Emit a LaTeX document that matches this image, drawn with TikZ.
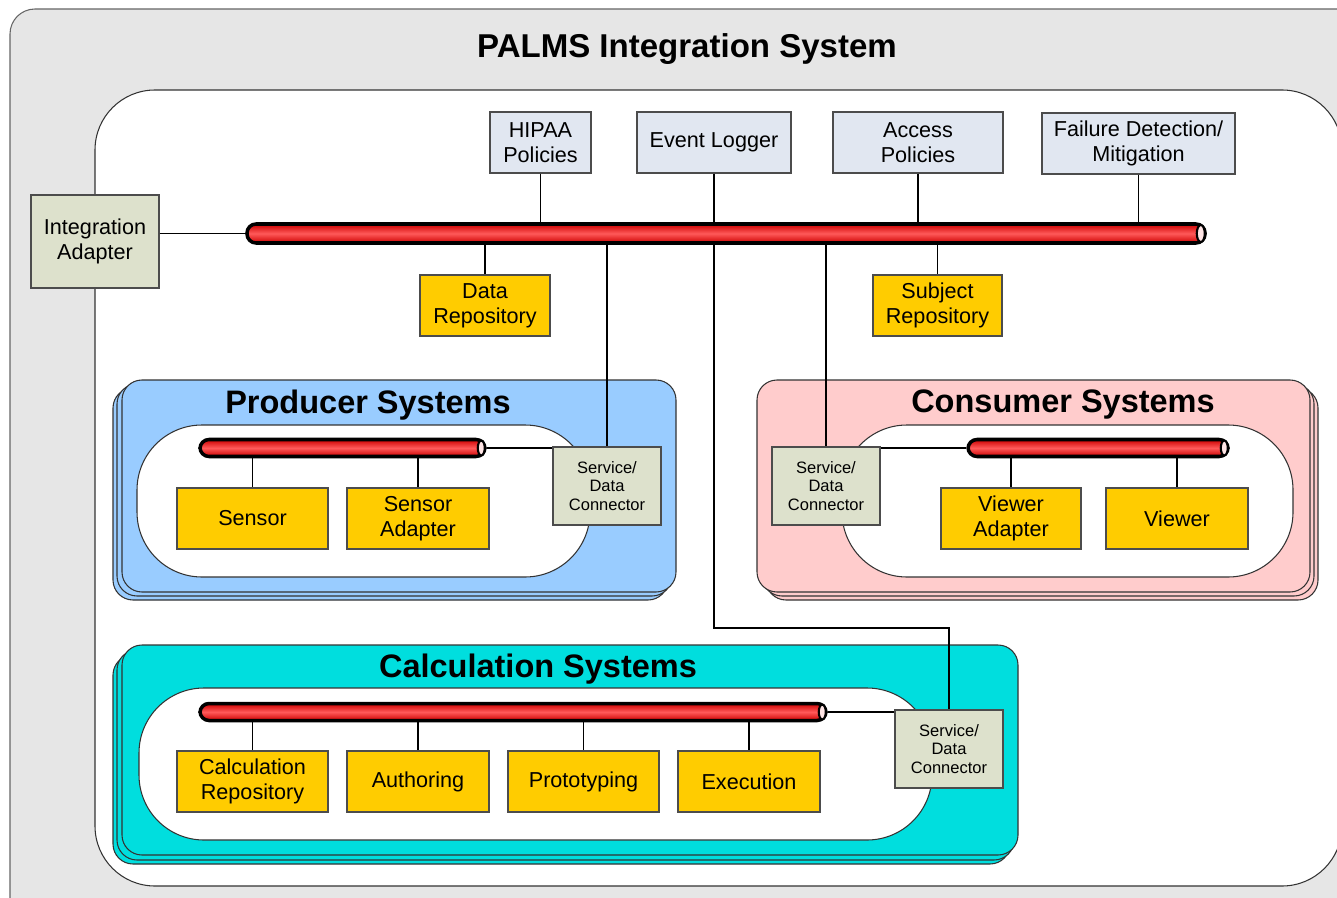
\documentclass[tikz,border=0pt]{standalone}
\usepackage{fontspec}
\setmainfont{Liberation Sans}
\usepackage{tikz}

\newcommand{\pxu}{0.02cm}
\definecolor{framegray}{HTML}{E6E6E6}
\definecolor{toolblue}{HTML}{E1E7F1}
\definecolor{repoyellow}{HTML}{FFCC00}
\definecolor{adaptgreen}{HTML}{DDE1CC}
\definecolor{prodblue}{HTML}{99CCFF}
\definecolor{conspink}{HTML}{FFCCCC}
\definecolor{calccyan}{HTML}{00DEDE}

\tikzset{
  base/.style={draw=black!70, line width=0.6pt, align=center, inner sep=0pt,
    font=\fontsize{12.3}{14.4}\selectfont},
  toolbox/.style={base, fill=toolblue, minimum height=61*\pxu},
  repobox/.style={base, fill=repoyellow, minimum height=61*\pxu},
  adapterbox/.style={base, fill=adaptgreen},
  connbox/.style={base, fill=adaptgreen, minimum width=108*\pxu, minimum height=78*\pxu,
    font=\fontsize{9.4}{10.7}\selectfont},
  pipe/.style={draw=black, line width=2pt, rounded corners=0.18cm, inner sep=0pt,
    top color=red!80!black, bottom color=red!80!black, middle color=red!65!white},
  pipeend/.style={draw=black, line width=1.2pt, fill=red!10},
  link/.style={line width=0.9pt},
  route/.style={line width=1.4pt},
  stack/.style={draw=black!80, line width=0.6pt, rounded corners=0.4cm},
  pill/.style={draw=black!80, fill=white, line width=0.6pt, rounded corners=1.3cm},
  grouptitle/.style={font=\fontsize{18.5}{21}\selectfont\bfseries}
}

\begin{document}
\begin{tikzpicture}[x=0.02cm, y=-0.02cm]
	\useasboundingbox (0,0) rectangle (1337,898);
	\clip (0,0) rectangle (1337,898);
	\fill[white] (0,0) rectangle (1337,898);
	% frames
	\draw[draw=black!60, fill=framegray, line width=0.6pt, rounded corners=0.5cm] (10,9) rectangle (1420,980);
	\draw[draw=black!80, fill=white, line width=0.6pt, rounded corners=1.2cm] (95,90) rectangle (1342,886);
	\node[font=\fontsize{18.8}{22}\selectfont\bfseries] (title) at (687,49) {PALMS Integration System};

	% producer stack
	\draw[stack, fill=prodblue] (113,388) rectangle (668,600);
	\draw[stack, fill=prodblue] (117,384) rectangle (672,596);
	\draw[stack, fill=prodblue] (122,380) rectangle (676,592);
	\draw[pill] (137,425) rectangle (590,577);
	\node[grouptitle] (prodtitle) at (368,405) {Producer Systems};

	% consumer stack
	\draw[stack, fill=conspink] (766,388) rectangle (1318,600);
	\draw[stack, fill=conspink] (762,384) rectangle (1314,596);
	\draw[stack, fill=conspink] (757,380) rectangle (1310,592);
	\draw[pill] (842,425) rectangle (1293,577);
	\node[grouptitle] (constitle) at (1063,405) {Consumer Systems};

	% calculation stack
	\draw[stack, fill=calccyan] (113,655) rectangle (1010,864);
	\draw[stack, fill=calccyan] (117,650) rectangle (1014,860);
	\draw[stack, fill=calccyan] (122,645) rectangle (1018,855);
	\draw[pill] (139,688) rectangle (932,840);
	\node[grouptitle] (calctitle) at (538,669) {Calculation Systems};

	% buses
	\node[pipe, minimum width=958*\pxu, minimum height=19*\pxu] (mainbus) at (726,233.5) {};
	\draw[pipeend] ([xshift=-0.12cm]mainbus.east) ellipse (0.08cm and 0.17cm);
	\node[pipe, minimum width=285*\pxu, minimum height=17*\pxu] (prodbus) at (342.5,448) {};
	\draw[pipeend] ([xshift=-0.11cm]prodbus.east) ellipse (0.07cm and 0.15cm);
	\node[pipe, minimum width=260*\pxu, minimum height=17*\pxu] (consbus) at (1098,448) {};
	\draw[pipeend] ([xshift=-0.11cm]consbus.east) ellipse (0.07cm and 0.15cm);
	\node[pipe, minimum width=626*\pxu, minimum height=17*\pxu] (calcbus) at (513,712) {};
	\draw[pipeend] ([xshift=-0.11cm]calcbus.east) ellipse (0.07cm and 0.15cm);

	% boxes on the main bus
	\node[adapterbox, minimum width=128*\pxu, minimum height=93*\pxu] (intadapter) at (95,241.5) {Integration\\Adapter};
	\node[toolbox, minimum width=101*\pxu] (hipaa) at (540.5,142.5) {HIPAA\\Policies};
	\node[toolbox, minimum width=154*\pxu] (logger) at (714,142.5) {Event Logger};
	\node[toolbox, minimum width=170*\pxu] (access) at (918,142.5) {Access\\Policies};
	\node[toolbox, minimum width=193*\pxu] (failure) at (1138.5,143.5) {Failure Detection/\\Mitigation};
	\node[repobox, minimum width=130*\pxu] (datarepo) at (485,305.5) {Data\\Repository};
	\node[repobox, minimum width=129*\pxu] (subjrepo) at (937.5,305.5) {Subject\\Repository};

	% boxes in the groups
	\node[connbox] (prodconn) at (607,486) {Service/\\Data\\Connector};
	\node[connbox] (consconn) at (826,486) {Service/\\Data\\Connector};
	\node[connbox] (calcconn) at (949,749) {Service/\\Data\\Connector};
	\node[repobox, minimum width=151*\pxu] (sensor) at (252.5,518.5) {Sensor};
	\node[repobox, minimum width=142*\pxu] (sensadapter) at (418,518.5) {Sensor\\Adapter};
	\node[repobox, minimum width=140*\pxu] (viewadapter) at (1011,518.5) {Viewer\\Adapter};
	\node[repobox, minimum width=142*\pxu] (viewer) at (1177,518.5) {Viewer};
	\node[repobox, minimum width=151*\pxu] (calcrepo) at (252.5,781.5) {Calculation\\Repository};
	\node[repobox, minimum width=142*\pxu] (authoring) at (418,781.5) {Authoring};
	\node[repobox, minimum width=151*\pxu] (prototyping) at (583.5,781.5) {Prototyping};
	\node[repobox, minimum width=142*\pxu] (execution) at (749,781.5) {Execution};

	% links to the main bus
	\draw[link] (intadapter.east |- mainbus.west) -- (mainbus.west);
	\draw[link] (hipaa.south) -- (hipaa.south |- mainbus.north);
	\draw[link] (logger.south) -- (logger.south |- mainbus.north);
	\draw[link] (access.south) -- (access.south |- mainbus.north);
	\draw[link] (failure.south) -- (failure.south |- mainbus.north);
	\draw[link] (datarepo.north |- mainbus.south) -- (datarepo.north);
	\draw[link] (subjrepo.north |- mainbus.south) -- (subjrepo.north);
	\draw[link] (prodconn.north |- mainbus.south) -- (prodconn.north);
	\draw[link] (consconn.north |- mainbus.south) -- (consconn.north);
	\coordinate (turn) at (949,628);
	\draw[route] (logger.south |- mainbus.south) |- (turn) -- (calcconn.north);

	% links inside the groups
	\draw[link] (prodbus.east) -- (prodbus.east -| prodconn.west);
	\draw[link] (consconn.east |- consbus.west) -- (consbus.west);
	\draw[link] (calcbus.east) -- (calcbus.east -| calcconn.west);
	\draw[link] (prodbus.south -| sensor.north) -- (sensor.north);
	\draw[link] (prodbus.south -| sensadapter.north) -- (sensadapter.north);
	\draw[link] (consbus.south -| viewadapter.north) -- (viewadapter.north);
	\draw[link] (consbus.south -| viewer.north) -- (viewer.north);
	\draw[link] (calcbus.south -| calcrepo.north) -- (calcrepo.north);
	\draw[link] (calcbus.south -| authoring.north) -- (authoring.north);
	\draw[link] (calcbus.south -| prototyping.north) -- (prototyping.north);
	\draw[link] (calcbus.south -| execution.north) -- (execution.north);
\end{tikzpicture}
\end{document}
